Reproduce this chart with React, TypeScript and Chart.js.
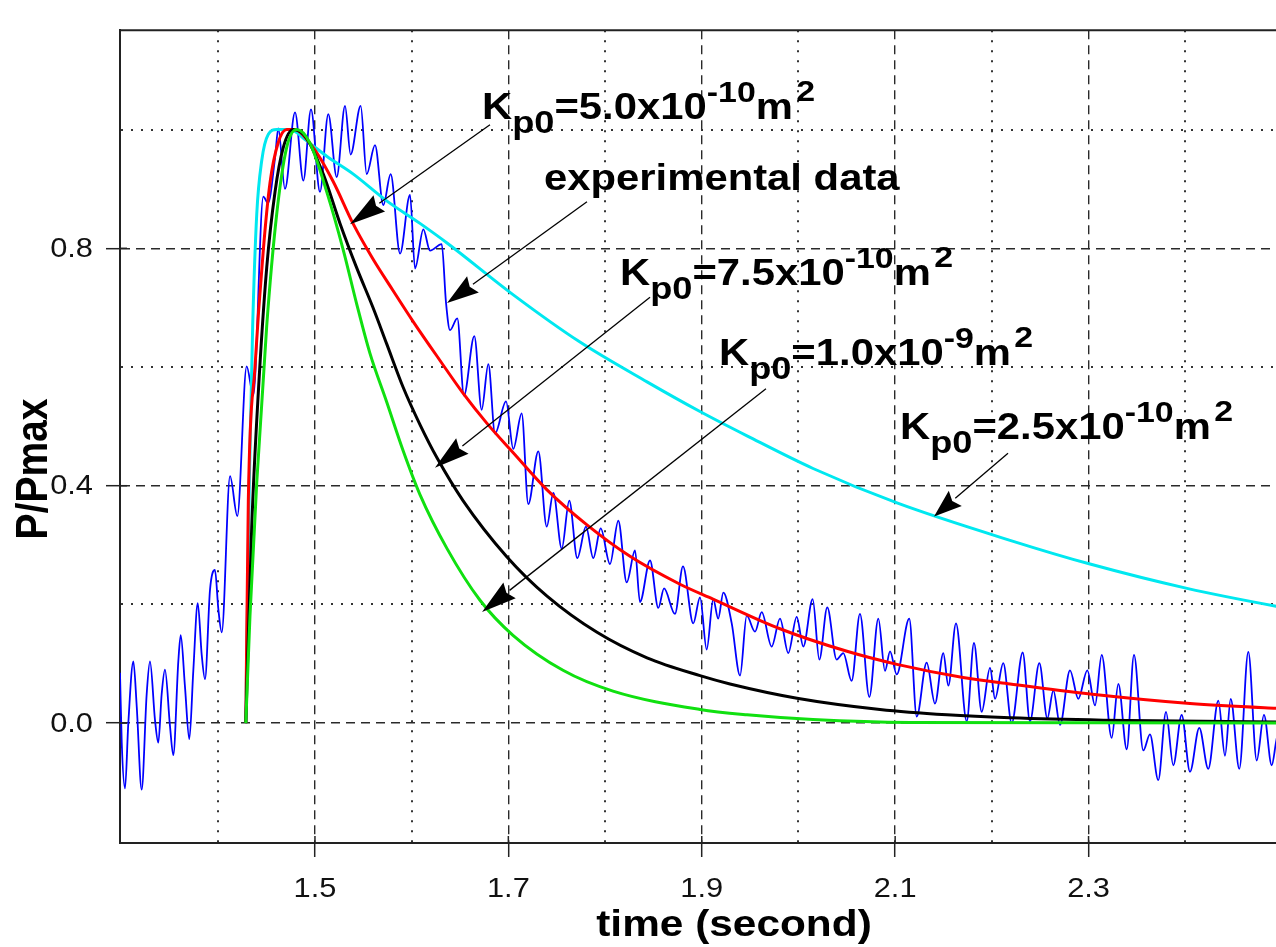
import React, { useEffect, useRef } from 'react';
import { Chart, registerables } from 'chart.js';

Chart.register(...registerables);

// ---------- axes ----------
const X_MIN = 1.2984;
const X_MAX = 2.5683;
const Y_MIN = -0.202;
const Y_MAX = 1.1675;
const xTickValues = [1.4, 1.5, 1.6, 1.7, 1.8, 1.9, 2.0, 2.1, 2.2, 2.3, 2.4];
const yTickValues = [0.0, 0.2, 0.4, 0.6, 0.8, 1.0];
const xLabeled = [1.5, 1.7, 1.9, 2.1, 2.3];
const yLabeled = [0.0, 0.4, 0.8];
const xTitle = 'time (second)';
const yTitle = 'P/Pmax';

// ---------- experimental data (blue) ----------
const expTime = [
  1.2984, 1.3002, 1.3036, 1.307, 1.3122, 1.3157, 1.3208, 1.326, 1.3294, 1.3346,
  1.338, 1.3415, 1.3449, 1.3501, 1.3535, 1.3587, 1.3612, 1.3656, 1.3701, 1.3742,
  1.3788, 1.3829, 1.3863, 1.3915, 1.3966, 1.4001, 1.4036,
  1.4122, 1.4197, 1.4294, 1.4362, 1.4466, 1.4515, 1.4587, 1.4621, 1.469, 1.4794,
  1.488, 1.4959, 1.5052, 1.5138, 1.5225, 1.5311, 1.5369, 1.5473, 1.5535, 1.5621,
  1.5707, 1.5783, 1.588, 1.5983, 1.6035, 1.6121, 1.619, 1.6311,
  1.6355, 1.6397, 1.6472, 1.6541, 1.6648, 1.6724, 1.6793, 1.6862, 1.6976, 1.7051,
  1.7138, 1.7206, 1.731, 1.7397, 1.7465, 1.7552, 1.763, 1.7713, 1.7803, 1.7878,
  1.7955, 1.8051, 1.8137, 1.8224, 1.831, 1.8361, 1.8465, 1.8551, 1.861, 1.8723, 1.8806,
  1.8912, 1.8982, 1.9051, 1.9119, 1.917, 1.9223, 1.931, 1.9396, 1.9465, 1.9551,
  1.962, 1.9723, 1.9809, 1.9895, 1.9982, 2.005, 2.0147, 2.0216, 2.0298, 2.0395,
  2.0464, 2.055, 2.0636, 2.0733, 2.0826, 2.0895, 2.0947, 2.1016, 2.1146, 2.1223,
  2.1326, 2.1412, 2.1498, 2.155, 2.1629, 2.174, 2.1815, 2.1895, 2.1981, 2.2033,
  2.2118, 2.2205, 2.2319, 2.2394, 2.2491, 2.2574, 2.2636, 2.2705, 2.2808, 2.2894,
  2.2987, 2.3067, 2.3136, 2.3239, 2.3308, 2.3395, 2.347, 2.3566, 2.3635, 2.3721,
  2.3801, 2.3876, 2.3963, 2.4049, 2.4145, 2.4238, 2.4342, 2.4411, 2.447, 2.4559,
  2.4652, 2.4739, 2.4814, 2.4894, 2.4938, 2.501,
];
const expValue = [
  0.085, -0.033, -0.11, 0.0, 0.104, 0.028, -0.112, 0.049, 0.104, 0.005,
  -0.033, 0.049, 0.09, -0.005, -0.054, 0.104, 0.148, 0.061, -0.027, 0.088,
  0.202, 0.115, 0.074, 0.225, 0.258, 0.192, 0.153,
  0.416, 0.349, 0.601, 0.552, 0.887, 0.876, 0.952, 1.002, 0.9, 1.029,
  0.914, 1.034, 0.895, 1.026, 0.92, 1.04, 0.958, 1.04, 0.925, 0.974,
  0.873, 0.925, 0.791, 0.89, 0.766, 0.832, 0.796, 0.807,
  0.709, 0.662, 0.682, 0.552, 0.652, 0.528, 0.605, 0.488, 0.542, 0.462,
  0.522, 0.369, 0.458, 0.331, 0.388, 0.294, 0.375, 0.278, 0.331, 0.278,
  0.328, 0.268, 0.341, 0.237, 0.291, 0.204, 0.274, 0.194, 0.227, 0.184, 0.264,
  0.168, 0.212, 0.124, 0.209, 0.176, 0.22, 0.168, 0.08, 0.181, 0.154,
  0.187, 0.129, 0.176, 0.118, 0.179, 0.129, 0.209, 0.107, 0.195, 0.107,
  0.118, 0.071, 0.184, 0.044, 0.176, 0.088, 0.121, 0.082, 0.176, 0.011,
  0.102, 0.033, 0.118, 0.063, 0.168, 0.003, 0.135, 0.019, 0.093, 0.041,
  0.101, 0.0, 0.119, 0.003, 0.101, 0.008, 0.055, -0.003, 0.089, 0.041,
  0.089, 0.03, 0.115, -0.025, 0.066, -0.044, 0.115, -0.046, -0.019, -0.096,
  0.019, -0.071, 0.014, -0.082, -0.008, -0.077, 0.038, -0.055, 0.041, -0.077,
  0.12, -0.063, 0.014, -0.071, -0.033, 0.03,
];

// ---------- model: Kp0 = 2.5e-10 (cyan) ----------
const k25Time = [1.4285, 1.4321, 1.4356, 1.4398, 1.4449, 1.4518, 1.4604, 1.4742, 1.4915, 1.5122, 1.5397, 1.5742, 1.6086, 1.6366, 1.7048, 1.7741, 1.8434, 1.8982, 1.9468, 2.0151, 2.1019, 2.2188, 2.3015, 2.4018, 2.4939, 2.57];
const k25Value = [0, 0.405, 0.669, 0.857, 0.947, 0.992, 1.0, 1.0, 0.981, 0.955, 0.925, 0.88, 0.842, 0.809, 0.722, 0.642, 0.575, 0.525, 0.484, 0.429, 0.371, 0.308, 0.268, 0.227, 0.197, 0.176];

// ---------- model: Kp0 = 5.0e-10 (red) ----------
const k50Time = [1.4285, 1.4311, 1.438, 1.4466, 1.4535, 1.4618, 1.4708, 1.4783, 1.498, 1.5187, 1.5393, 1.56, 1.5807, 1.6014, 1.6293, 1.6531, 1.6779, 1.7048, 1.74, 1.7813, 1.8258, 1.8775, 1.9116, 1.9809, 2.0502, 2.1019, 2.1702, 2.2188, 2.3015, 2.4049, 2.4939, 2.57];
const k50Value = [0, 0.375, 0.6, 0.797, 0.91, 0.977, 1.0, 1.0, 0.97, 0.913, 0.842, 0.782, 0.729, 0.677, 0.611, 0.556, 0.505, 0.456, 0.393, 0.334, 0.281, 0.234, 0.209, 0.159, 0.121, 0.099, 0.077, 0.066, 0.049, 0.033, 0.025, 0.02];

// ---------- model: Kp0 = 7.5e-10 (black) ----------
const k75Time = [1.4285, 1.4346, 1.4414, 1.4501, 1.4587, 1.4673, 1.4776, 1.4915, 1.5086, 1.5259, 1.5432, 1.5603, 1.5742, 1.5914, 1.6086, 1.6262, 1.6531, 1.6986, 1.74, 1.7917, 1.8434, 1.8982, 1.9292, 1.9985, 2.0843, 2.1536, 2.2188, 2.315, 2.4939, 2.57];
const k75Value = [0, 0.33, 0.556, 0.767, 0.895, 0.97, 1.0, 0.985, 0.925, 0.842, 0.767, 0.699, 0.639, 0.565, 0.503, 0.447, 0.375, 0.28, 0.214, 0.153, 0.11, 0.08, 0.066, 0.042, 0.023, 0.014, 0.009, 0.005, 0.002, 0.001];

// ---------- model: Kp0 = 1.0e-9 (green) ----------
const k100Time = [1.4285, 1.4328, 1.4398, 1.4501, 1.4604, 1.4708, 1.4811, 1.4949, 1.5122, 1.5293, 1.5432, 1.5569, 1.5742, 1.5914, 1.6086, 1.6366, 1.6707, 1.7048, 1.7565, 1.8082, 1.8982, 1.9468, 2.0151, 2.1154, 2.4939, 2.57];
const k100Value = [0, 0.18, 0.405, 0.669, 0.857, 0.97, 1.0, 0.977, 0.895, 0.797, 0.706, 0.623, 0.541, 0.458, 0.385, 0.294, 0.207, 0.148, 0.089, 0.054, 0.023, 0.014, 0.006, 0.001, 0, 0];

// ---------- annotations (data coordinates) ----------
const labelMantissa = ['5.0', '', '7.5', '1.0', '2.5'];
const labelExponent = ['-10', '', '-10', '-9', '-10'];
const labelPlain = ['', 'experimental data', '', '', ''];
const labelT = [1.6728, 1.7369, 1.8155, 1.9178, 2.105];
const labelV = [1.0181, 0.8982, 0.7389, 0.6026, 0.4795];
const arrowFromT = [1.681, 1.7813, 1.8465, 1.9664, 2.2167];
const arrowFromV = [1.0082, 0.8785, 0.7176, 0.5632, 0.4548];
const arrowToT = [1.5362, 1.6366, 1.6241, 1.6728, 2.1402];
const arrowToV = [0.8407, 0.7077, 0.4302, 0.1872, 0.3481];
const arrowHead = [36, 32, 35, 35, 28];

const FONT = '"Liberation Sans", Arial, sans-serif';
const STRETCH = 1.13;
const TICK_STRETCH = 1.1;

const pts = (t: number[], v: number[]) => t.map((x, i) => ({ x, y: v[i] }));
const isX = (v: number) => xLabeled.some((l) => Math.abs(l - v) < 1e-6);
const isY = (v: number) => yLabeled.some((l) => Math.abs(l - v) < 1e-6);

function drawRich(ctx: CanvasRenderingContext2D, x: number, y: number, segs: { t: string; s: number; dy: number; gap?: number }[]) {
  ctx.save();
  ctx.translate(x, y);
  ctx.scale(STRETCH, 1);
  ctx.textBaseline = 'alphabetic';
  ctx.textAlign = 'left';
  ctx.fillStyle = '#000';
  let cx = 0;
  for (const sg of segs) {
    cx += sg.gap || 0;
    ctx.font = `bold ${sg.s}px ${FONT}`;
    ctx.fillText(sg.t, cx, sg.dy);
    cx += ctx.measureText(sg.t).width;
  }
  ctx.restore();
}

function drawArrow(ctx: CanvasRenderingContext2D, x1: number, y1: number, x2: number, y2: number, len: number) {
  const a = Math.atan2(y2 - y1, x2 - x1);
  const bx = x2 - len * Math.cos(a);
  const by = y2 - len * Math.sin(a);
  const half = 10;
  ctx.beginPath();
  ctx.moveTo(x1, y1);
  ctx.lineTo(bx, by);
  ctx.stroke();
  ctx.beginPath();
  ctx.moveTo(x2, y2);
  ctx.lineTo(bx + half * Math.sin(a), by - half * Math.cos(a));
  ctx.lineTo(bx + 4 * Math.cos(a), by + 4 * Math.sin(a));
  ctx.lineTo(bx - half * Math.sin(a), by + half * Math.cos(a));
  ctx.closePath();
  ctx.fill();
}

function stretchedText(ctx: CanvasRenderingContext2D, text: string, x: number, y: number, align: CanvasTextAlign) {
  ctx.save();
  ctx.translate(x, y);
  ctx.scale(TICK_STRETCH, 1);
  ctx.textAlign = align;
  ctx.textBaseline = 'middle';
  ctx.fillText(text, 0, 0);
  ctx.restore();
}

const decorPlugin = {
  id: 'decor',
  afterDatasetsDraw(chart: any) {
    const { ctx, chartArea, scales } = chart;
    const xs = scales.x;
    const ys = scales.y;
    ctx.save();
    // top frame line
    ctx.strokeStyle = '#222';
    ctx.lineWidth = 2;
    ctx.beginPath();
    ctx.moveTo(chartArea.left, chartArea.top);
    ctx.lineTo(chartArea.right, chartArea.top);
    ctx.stroke();
    // inner tick stubs
    ctx.lineWidth = 1.5;
    for (const v of xLabeled) {
      const p = xs.getPixelForValue(v);
      ctx.beginPath();
      ctx.moveTo(p, chartArea.bottom);
      ctx.lineTo(p, chartArea.bottom - 7);
      ctx.stroke();
    }
    for (const v of yLabeled) {
      const p = ys.getPixelForValue(v);
      ctx.beginPath();
      ctx.moveTo(chartArea.left, p);
      ctx.lineTo(chartArea.left + 7, p);
      ctx.stroke();
    }
    // tick labels
    ctx.fillStyle = '#111';
    ctx.font = `28px ${FONT}`;
    for (const v of xLabeled) {
      stretchedText(ctx, v.toFixed(1), xs.getPixelForValue(v), chartArea.bottom + 46, 'center');
    }
    for (const v of yLabeled) {
      stretchedText(ctx, v.toFixed(1), chartArea.left - 27, ys.getPixelForValue(v) + 1, 'right');
    }
    // arrows
    ctx.strokeStyle = '#000';
    ctx.fillStyle = '#000';
    ctx.lineWidth = 1.3;
    for (let i = 0; i < arrowFromT.length; i++) {
      drawArrow(
        ctx,
        xs.getPixelForValue(arrowFromT[i]),
        ys.getPixelForValue(arrowFromV[i]),
        xs.getPixelForValue(arrowToT[i]),
        ys.getPixelForValue(arrowToV[i]),
        arrowHead[i]
      );
    }
    // labels
    for (let i = 0; i < labelT.length; i++) {
      const px = xs.getPixelForValue(labelT[i]);
      const py = ys.getPixelForValue(labelV[i]);
      if (labelPlain[i]) {
        drawRich(ctx, px, py, [{ t: labelPlain[i], s: 37, dy: 0 }]);
      } else {
        drawRich(ctx, px, py, [
          { t: 'K', s: 37, dy: 0 },
          { t: 'p0', s: 32, dy: 14 },
          { t: '=' + labelMantissa[i] + 'x10', s: 37, dy: 0 },
          { t: labelExponent[i], s: 30, dy: -17 },
          { t: 'm', s: 37, dy: 0 },
          { t: '2', s: 30, dy: -18, gap: 3 },
        ]);
      }
    }
    // axis titles
    ctx.fillStyle = '#000';
    ctx.save();
    ctx.translate((chartArea.left + chartArea.right) / 2, chart.height - 11);
    ctx.scale(STRETCH, 1);
    ctx.font = `bold 37.5px ${FONT}`;
    ctx.textAlign = 'center';
    ctx.textBaseline = 'alphabetic';
    ctx.fillText(xTitle, 0, 0);
    ctx.restore();
    ctx.save();
    ctx.translate(47, 469);
    ctx.scale(STRETCH, 1);
    ctx.rotate(-Math.PI / 2);
    ctx.font = `bold 39px ${FONT}`;
    ctx.textAlign = 'center';
    ctx.textBaseline = 'alphabetic';
    ctx.fillText(yTitle, 0, 0);
    ctx.restore();
    ctx.restore();
  },
};

export default function App() {
  const ref = useRef<HTMLCanvasElement | null>(null);
  useEffect(() => {
    if (!ref.current) return;
    const line = (data: any, color: string, width: number) => ({
      data,
      borderColor: color,
      backgroundColor: color,
      borderWidth: width,
      pointRadius: 0,
      fill: false,
      cubicInterpolationMode: 'monotone' as const,
    });
    const chart = new Chart(ref.current, {
      type: 'line',
      data: {
        datasets: [
          line(pts(k100Time, k100Value), '#10e010', 3),
          line(pts(k75Time, k75Value), '#000000', 3),
          line(pts(k50Time, k50Value), '#ff0000', 3),
          line(pts(k25Time, k25Value), '#00e8f0', 3),
          line(pts(expTime, expValue), '#0000ff', 1.8),
        ],
      },
      options: {
        animation: false,
        responsive: false,
        devicePixelRatio: 1,
        parsing: false as any,
        normalized: true,
        layout: { padding: { top: 9, left: 0, right: 0, bottom: 0 } },
        plugins: { legend: { display: false }, tooltip: { enabled: false } },
        scales: {
          x: {
            type: 'linear',
            min: X_MIN,
            max: X_MAX,
            afterFit: (s: any) => {
              s.height = 104;
            },
            afterBuildTicks: (s: any) => {
              s.ticks = xTickValues.map((value) => ({ value }));
            },
            ticks: {
              autoSkip: false,
              maxRotation: 0,
              padding: 16,
              font: { size: 27, family: FONT },
              callback: () => '',
            },
            grid: {
              color: (c: any) => (c.tick && isX(c.tick.value) ? '#2a2a2a' : '#333'),
              lineWidth: (c: any) => (c.tick && isX(c.tick.value) ? 1.4 : 2),
              tickLength: 14,
              tickWidth: 1.5,
              tickColor: (c: any) => (c.tick && isX(c.tick.value) ? '#222' : 'rgba(0,0,0,0)'),
            },
            border: {
              display: true,
              color: '#222',
              width: 2,
              dash: (c: any) => (c.type === 'tick' ? (isX(c.tick.value) ? [9, 6] : [2, 8]) : []),
            },
          },
          y: {
            type: 'linear',
            min: Y_MIN,
            max: Y_MAX,
            afterFit: (s: any) => {
              s.width = 120;
            },
            afterBuildTicks: (s: any) => {
              s.ticks = yTickValues.map((value) => ({ value }));
            },
            ticks: {
              autoSkip: false,
              padding: 14,
              font: { size: 27, family: FONT },
              callback: () => '',
            },
            grid: {
              color: (c: any) => (c.tick && isY(c.tick.value) ? '#2a2a2a' : '#333'),
              lineWidth: (c: any) => (c.tick && isY(c.tick.value) ? 1.4 : 2),
              tickLength: 14,
              tickWidth: 1.5,
              tickColor: (c: any) => (c.tick && isY(c.tick.value) ? '#222' : 'rgba(0,0,0,0)'),
            },
            border: {
              display: true,
              color: '#222',
              width: 2,
              dash: (c: any) => (c.type === 'tick' ? (isY(c.tick.value) ? [9, 6] : [2, 8]) : []),
            },
          },
        },
      },
      plugins: [decorPlugin],
    } as any);
    return () => chart.destroy();
  }, []);
  return (
    <div
      style={{
        position: 'fixed',
        left: 0,
        top: 0,
        width: 1276,
        height: 947,
        overflow: 'hidden',
        background: '#fff',
      }}
    >
      <canvas ref={ref} width={1348} height={947} style={{ display: 'block', width: 1348, height: 947 }} />
    </div>
  );
}
